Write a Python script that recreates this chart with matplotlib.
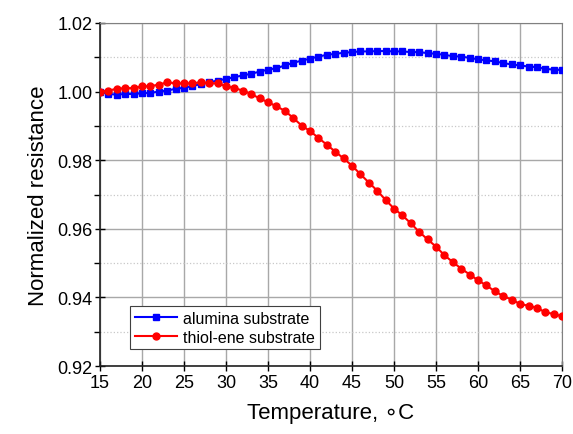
import matplotlib
matplotlib.use("Agg")
import matplotlib.pyplot as plt
from matplotlib.ticker import MultipleLocator

temp = list(range(15, 71))

alumina = [1.0000, 0.9993, 0.9991, 0.9993, 0.9993, 0.9995, 0.9996, 1.0000, 1.0003, 1.0008,
           1.0011, 1.0016, 1.0022, 1.0027, 1.0032, 1.0037, 1.0042, 1.0047, 1.0052, 1.0058,
           1.0064, 1.0068, 1.0076, 1.0084, 1.0090, 1.0096, 1.0102, 1.0107, 1.0110, 1.0113,
           1.0115, 1.0117, 1.0117, 1.0118, 1.0118, 1.0117, 1.0117, 1.0115, 1.0115, 1.0112,
           1.0110, 1.0107, 1.0103, 1.0102, 1.0098, 1.0094, 1.0091, 1.0088, 1.0083, 1.0079,
           1.0076, 1.0073, 1.0071, 1.0066, 1.0064, 1.0063]

thiolene = [1.0000, 1.0003, 1.0008, 1.0010, 1.0010, 1.0015, 1.0016, 1.0020, 1.0027, 1.0024,
            1.0024, 1.0024, 1.0027, 1.0024, 1.0024, 1.0016, 1.0010, 1.0003, 0.9993, 0.9980,
            0.9969, 0.9957, 0.9944, 0.9923, 0.9901, 0.9885, 0.9865, 0.9845, 0.9825, 0.9805,
            0.9784, 0.9759, 0.9735, 0.9711, 0.9684, 0.9659, 0.9639, 0.9616, 0.9591, 0.9569,
            0.9548, 0.9523, 0.9503, 0.9484, 0.9467, 0.9450, 0.9435, 0.9418, 0.9404, 0.9394,
            0.9381, 0.9376, 0.9370, 0.9357, 0.9352, 0.9345]

plt.rcParams['font.family'] = ['Liberation Sans', 'DejaVu Sans']

fig = plt.figure(figsize=(5.73, 4.35), dpi=100)
ax = fig.add_axes([0.1745, 0.156, 0.8065, 0.789])

ax.plot(temp, alumina, color='#0000ff', marker='s', markersize=5, lw=1.5,
        label='alumina substrate', zorder=3)
ax.plot(temp, thiolene, color='#ff0000', marker='o', markersize=5, lw=1.5,
        label='thiol-ene substrate', zorder=3)

ax.set_xlim(15, 70)
ax.set_ylim(0.92, 1.02)
ax.xaxis.set_major_locator(MultipleLocator(5))
ax.yaxis.set_minor_locator(MultipleLocator(0.01))
ax.set_yticks([0.92, 0.94, 0.96, 0.98, 1.00, 1.02])
ax.set_yticklabels(['0.92', '0.94', '0.96', '0.98', '1.00', '1.02'])

ax.grid(True, which='major', color='#a8a8a8', lw=1.0)
ax.grid(True, which='minor', axis='y', color='#c8c8c8', lw=0.9, ls=':')
ax.set_axisbelow(True)

ax.tick_params(axis='both', which='major', direction='inout', length=7, width=1,
               labelsize=13, pad=2)
ax.tick_params(axis='y', which='minor', direction='out', length=4, width=1)
for s in ['top', 'right']:
    ax.spines[s].set_color('#808080')
for s in ['left', 'bottom']:
    ax.spines[s].set_color('#202020')
    ax.spines[s].set_linewidth(1.2)

ax.set_xlabel('Temperature, \u2218C', fontsize=16, labelpad=8)
ax.set_ylabel('Normalized resistance', fontsize=16, labelpad=6)

leg = ax.legend(loc='lower left', bbox_to_anchor=(0.055, 0.035), fontsize=11.5,
                fancybox=False, edgecolor='#404040', framealpha=1,
                handlelength=2.6, handletextpad=0.4, borderpad=0.3,
                labelspacing=0.25, borderaxespad=0.3)
leg.get_frame().set_linewidth(0.8)

fig.savefig('out.png', dpi=100)
